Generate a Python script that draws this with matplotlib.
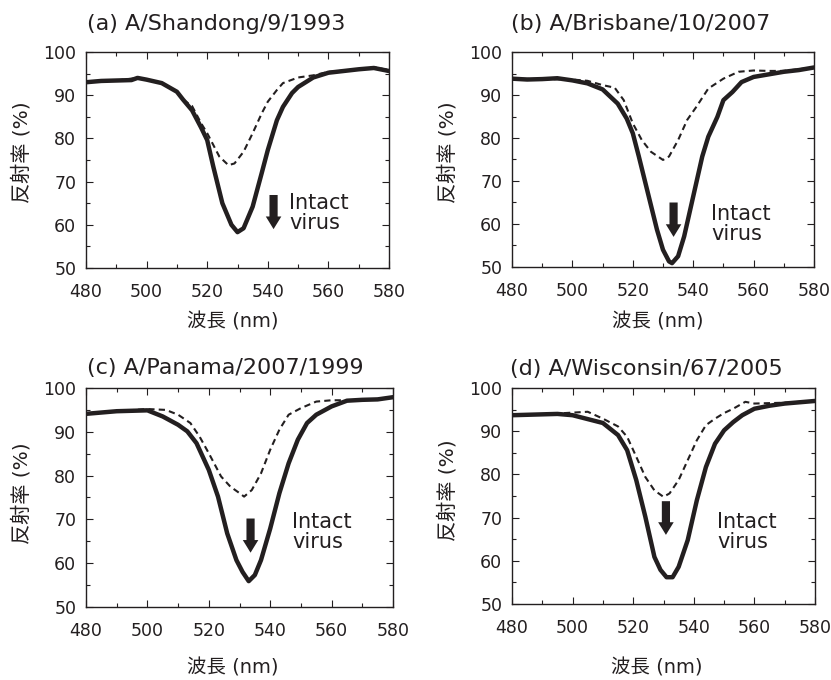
import matplotlib
matplotlib.use("Agg")
import matplotlib.pyplot as plt
from matplotlib.ticker import MultipleLocator

plt.rcParams['font.family'] = ['DejaVu Sans', 'Noto Sans CJK JP']

# ---------------- data ----------------
titles = ["(a) A/Shandong/9/1993", "(b) A/Brisbane/10/2007",
          "(c) A/Panama/2007/1999", "(d) A/Wisconsin/67/2005"]

a_solid_x = [480, 485, 490, 495, 497, 500, 505, 510, 512, 515, 518, 520, 522, 525, 528, 530,
             532, 535, 538, 540, 543, 545, 548, 550, 555, 560, 565, 570, 575, 580]
a_solid_y = [93.0, 93.3, 93.4, 93.5, 94.0, 93.6, 92.8, 90.8, 89.0, 86.5, 82.5, 79.6, 73.5, 65.0,
             60.0, 58.3, 59.2, 64.2, 72.0, 77.3, 84.2, 87.3, 90.5, 91.9, 94.1, 95.2, 95.6, 96.0,
             96.3, 95.6]
a_dash_x = [480, 490, 497, 500, 505, 510, 512, 515, 518, 520, 522, 524, 527, 529, 532, 535, 538,
            540, 543, 545, 550, 555, 560, 565, 570, 575, 580]
a_dash_y = [93.0, 93.4, 94.0, 93.6, 92.8, 90.8, 89.0, 87.5, 83.5, 81.2, 78.5, 75.8, 73.8, 74.2,
            76.9, 81.2, 85.8, 88.5, 91.2, 92.8, 94.1, 94.6, 95.4, 95.7, 96.1, 96.5, 95.8]

b_solid_x = [480, 485, 490, 495, 500, 505, 510, 515, 518, 520, 522, 525, 528, 530, 532, 533, 535,
             537, 540, 543, 545, 548, 550, 553, 556, 560, 565, 570, 575, 580]
b_solid_y = [93.8, 93.6, 93.7, 93.9, 93.4, 92.7, 91.3, 88.0, 84.5, 81.1, 75.7, 67.2, 58.7, 54.0,
             51.3, 50.9, 52.5, 57.1, 66.4, 75.7, 80.3, 84.9, 88.8, 90.7, 93.0, 94.2, 94.8, 95.4,
             95.8, 96.4]
b_dash_x = [480, 490, 500, 505, 510, 514, 517, 520, 523, 526, 530, 532, 535, 538, 541, 545, 550,
            555, 560, 565, 570, 575, 580]
b_dash_y = [93.8, 93.7, 93.6, 93.3, 92.3, 91.7, 88.8, 83.4, 79.5, 76.8, 74.9, 75.7, 79.5, 84.2,
            87.2, 91.5, 93.8, 95.4, 95.7, 95.6, 95.6, 96.0, 96.4]

c_solid_x = [480, 485, 490, 495, 500, 505, 510, 513, 516, 520, 523, 526, 529, 531, 533, 535, 537,
             540, 543, 546, 549, 552, 555, 560, 565, 570, 575, 580]
c_solid_y = [94.1, 94.4, 94.7, 94.8, 94.9, 93.5, 91.6, 90.1, 87.4, 81.3, 75.2, 66.8, 60.7, 58.0,
             55.9, 57.3, 60.7, 67.9, 76.0, 82.8, 88.2, 92.0, 93.9, 95.8, 97.1, 97.3, 97.4, 97.9]
c_dash_x = [480, 490, 500, 506, 510, 514, 517, 520, 524, 527, 530, 531.5, 534, 537, 540, 543, 546,
            550, 555, 560, 565, 570, 575, 580]
c_dash_y = [94.1, 94.7, 95.2, 95.0, 93.9, 92.0, 88.9, 85.1, 79.8, 77.5, 76.0, 75.2, 76.7, 80.5,
            85.9, 90.5, 93.9, 95.4, 96.9, 97.2, 97.2, 97.3, 97.5, 97.9]

d_solid_x = [480, 485, 490, 495, 500, 505, 510, 515, 518, 521, 524, 527, 529, 531, 533, 535, 538,
             541, 544, 547, 550, 553, 556, 560, 565, 570, 575, 580]
d_solid_y = [93.7, 93.8, 93.9, 94.0, 93.7, 92.8, 91.9, 89.1, 85.6, 78.7, 70.2, 60.9, 57.9, 56.2,
             56.2, 58.6, 64.8, 74.0, 81.7, 87.1, 90.2, 92.1, 93.7, 95.2, 95.9, 96.4, 96.7, 97.0]
d_dash_x = [480, 490, 500, 505, 510, 515, 518, 521, 524, 527, 530, 532, 535, 538, 541, 544, 547,
            550, 553, 557, 560, 565, 570, 575, 580]
d_dash_y = [93.7, 93.9, 94.3, 94.5, 92.9, 91.1, 88.7, 84.1, 79.4, 76.3, 74.8, 75.6, 78.7, 83.3,
            87.9, 91.4, 92.9, 94.2, 95.2, 96.8, 96.4, 96.5, 96.6, 96.8, 97.0]

# arrow (x, y_start, y_end) and text (x, y of two-line label centre)
arrows = [(541.9, 66.9, 59.0), (533.5, 65.0, 57.0), (533.6, 70.2, 62.4), (530.8, 73.8, 66.0)]
label_pos = [(547.0, 62.8), (546.0, 60.0), (547.2, 67.2), (547.7, 66.7)]
label_text = "Intact\nvirus"

x_label = "波長 (nm)"
y_label = "反射率 (%)"

# ---------------- layout ----------------
W, H = 831, 680
fig = plt.figure(figsize=(W / 100, H / 100), dpi=100)
fig.patch.set_facecolor('white')

# axes pixel boxes: left, top, right, bottom
boxes = [(86, 52, 389, 268), (512, 52, 814, 267), (86, 388, 393, 607), (512, 388, 815, 604)]
title_pos = [(87, 24), (511, 24), (87, 368), (510, 369)]
xlabel_pos = [(233, 322), (658, 322), (233, 668), (657, 668)]
ylabel_pos = [(22, 152), (448, 152), (22, 493), (448, 490)]

series = [(a_solid_x, a_solid_y, a_dash_x, a_dash_y),
          (b_solid_x, b_solid_y, b_dash_x, b_dash_y),
          (c_solid_x, c_solid_y, c_dash_x, c_dash_y),
          (d_solid_x, d_solid_y, d_dash_x, d_dash_y)]

ink = '#231f20'

for i in range(4):
    l, t, r, b = boxes[i]
    ax = fig.add_axes([l / W, 1 - b / H, (r - l) / W, (b - t) / H])
    sx, sy, dx, dy = series[i]
    ax.plot(dx, dy, color=ink, lw=1.5, linestyle=(0, (3, 2)))
    ax.plot(sx, sy, color=ink, lw=3.2, solid_joinstyle='round', solid_capstyle='round')
    ax.set_xlim(480, 580)
    ax.set_ylim(50, 100)
    ax.xaxis.set_major_locator(MultipleLocator(20))
    ax.xaxis.set_minor_locator(MultipleLocator(10))
    ax.yaxis.set_major_locator(MultipleLocator(10))
    ax.yaxis.set_minor_locator(MultipleLocator(5))
    ax.tick_params(which='both', direction='in', top=True, right=True,
                   colors=ink, labelcolor=ink, width=0.8)
    ax.tick_params(which='major', length=5, labelsize=12.5)
    ax.tick_params(axis='x', which='major', pad=11)
    ax.tick_params(axis='y', which='major', pad=7)
    ax.tick_params(which='minor', length=3)
    for s in ax.spines.values():
        s.set_linewidth(1.0)
        s.set_color(ink)

    axx, y0, y1 = arrows[i]
    ax.annotate('', xy=(axx, y1), xytext=(axx, y0),
                arrowprops=dict(arrowstyle='simple,head_length=0.65,head_width=0.8,tail_width=0.42',
                                mutation_scale=14, color=ink, shrinkA=0, shrinkB=0, lw=0))
    tx, ty = label_pos[i]
    ax.text(tx, ty, label_text, fontsize=15, color=ink, ha='left', va='center',
            linespacing=1.0)

    px, py = title_pos[i]
    fig.text(px / W, 1 - py / H, titles[i], fontsize=16, color=ink, ha='left', va='center')
    px, py = xlabel_pos[i]
    fig.text(px / W, 1 - py / H, x_label, fontsize=14, color=ink, ha='center', va='center')
    px, py = ylabel_pos[i]
    fig.text(px / W, 1 - py / H, y_label, fontsize=14.5, color=ink, ha='center', va='center',
             rotation=90)

fig.savefig('out.png', dpi=100)
